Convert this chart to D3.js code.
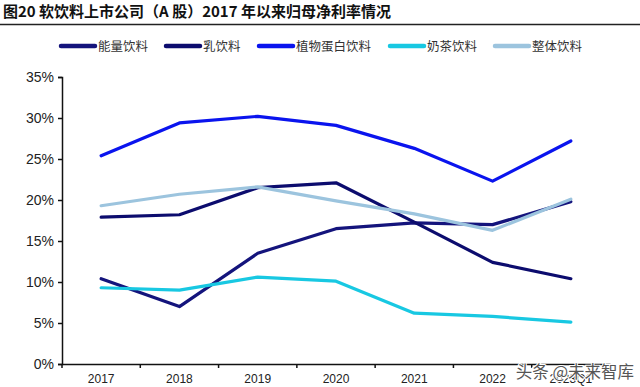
<!DOCTYPE html>
<html>
<head>
<meta charset="utf-8">
<script src="https://cdn.jsdelivr.net/npm/d3@7"></script>
<style>
  body { margin: 0; background: #fff; }
  svg { display: block; }
</style>
</head>
<body>
<svg width="640" height="387"></svg>
<script>
const years = ["2017", "2018", "2019", "2020", "2021", "2022", "2023Q1"];
const energy = [10.4, 7.0, 13.5, 16.5, 17.2, 17.0, 19.8];
const milk = [17.9, 18.2, 21.5, 22.1, 17.3, 12.4, 10.4];
const plant = [25.4, 29.4, 30.2, 29.1, 26.3, 22.3, 27.2];
const milkTea = [9.3, 9.0, 10.6, 10.1, 6.2, 5.8, 5.1];
const overall = [19.3, 20.7, 21.6, 19.9, 18.3, 16.3, 20.1];
const yTicks = [0, 5, 10, 15, 20, 25, 30, 35];

const series = [
    { name: "能量饮料", values: energy, color: "#14147c" },
    { name: "乳饮料", values: milk, color: "#0c0c6e" },
    { name: "植物蛋白饮料", values: plant, color: "#0a14ee" },
    { name: "奶茶饮料", values: milkTea, color: "#18c8e2" },
    { name: "整体饮料", values: overall, color: "#9cc4de" }
];

const svg = d3.select("svg");

// title + rule
svg.append("text")
    .attr("x", 3).attr("y", 17)
    .attr("font-family", "Noto Sans CJK SC")
    .attr("font-size", 15).attr("font-weight", "bold")
    .attr("fill", "#111")
    .attr("xml:space", "preserve")
    .text("图20 软饮料上市公司（A 股）2017 年以来归母净利率情况");
svg.append("line")
    .attr("x1", 0).attr("x2", 640).attr("y1", 24.5).attr("y2", 24.5)
    .attr("stroke", "#222").attr("stroke-width", 1.5);

const x = d3.scaleBand().domain(years).range([62, 610]);
const y = d3.scaleLinear().domain([0, 35]).range([364, 77]);

// y axis
const yAxis = svg.append("g")
    .attr("transform", "translate(62,0)")
    .call(d3.axisLeft(y).tickValues(yTicks).tickSize(4).tickFormat(d => d + "%"));
yAxis.select(".domain").attr("stroke", "#111").attr("stroke-width", 1.5);
yAxis.selectAll(".tick line").attr("stroke", "#111").attr("stroke-width", 1.5);
yAxis.selectAll("text")
    .attr("font-family", "Liberation Sans").attr("font-size", 14)
    .attr("fill", "#222").attr("x", -8);

// x axis, ticks sit between the categories
const xAxis = svg.append("g")
    .attr("transform", "translate(0,364)")
    .call(d3.axisBottom(x).tickSize(0).tickSizeOuter(0));
xAxis.select(".domain").attr("stroke", "#111").attr("stroke-width", 1.5);
xAxis.selectAll("text")
    .attr("font-family", "Liberation Sans").attr("font-size", 12)
    .attr("fill", "#222").attr("dy", "1.3em");
xAxis.selectAll(".sep")
    .data(years.concat(["end"]))
    .enter().append("line")
    .attr("class", "sep")
    .attr("x1", (d, i) => i < years.length ? x(d) : x.range()[1])
    .attr("x2", (d, i) => i < years.length ? x(d) : x.range()[1])
    .attr("y1", 0).attr("y2", 4)
    .attr("stroke", "#111").attr("stroke-width", 1.5);

// lines
const line = d3.line()
    .x((d, i) => x(years[i]) + x.bandwidth() / 2)
    .y(d => y(d));

svg.append("g")
    .selectAll("path")
    .data(series)
    .enter().append("path")
    .attr("d", s => line(s.values))
    .attr("fill", "none")
    .attr("stroke", s => s.color)
    .attr("stroke-width", 3.2)
    .attr("stroke-linejoin", "round")
    .attr("stroke-linecap", "round");

// legend
const legendX = [60, 165, 258, 389, 494];
const legend = svg.append("g")
    .selectAll("g")
    .data(series)
    .enter().append("g")
    .attr("transform", (d, i) => `translate(${legendX[i]},46)`);
legend.append("line")
    .attr("x1", 1).attr("x2", 35).attr("y1", 0).attr("y2", 0)
    .attr("stroke", d => d.color).attr("stroke-width", 4.5)
    .attr("stroke-linecap", "round");
legend.append("text")
    .attr("x", 38).attr("y", 4.5)
    .attr("font-family", "Noto Sans CJK SC").attr("font-size", 12.5)
    .attr("fill", "#333")
    .text(d => d.name);

// watermark
svg.append("text")
    .attr("x", 634).attr("y", 378)
    .attr("text-anchor", "end")
    .attr("font-family", "Noto Sans CJK SC").attr("font-size", 16.5)
    .attr("fill", "#555").attr("stroke", "#fff").attr("stroke-width", 2)
    .attr("paint-order", "stroke")
    .text("头条 @未来智库");
</script>
</body>
</html>
